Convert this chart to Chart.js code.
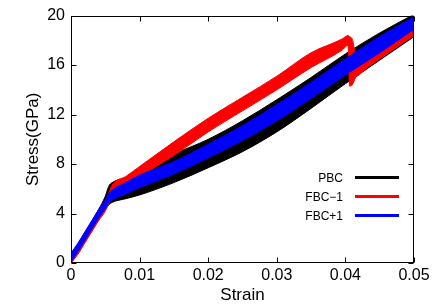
<!DOCTYPE html>
<html><head><meta charset="utf-8">
<script src="https://cdn.jsdelivr.net/npm/chart.js@4/dist/chart.umd.min.js"></script>
<style>html,body{margin:0;padding:0;background:#fff;}#wrap{width:436px;height:306px;position:relative;}</style>
</head><body><div id="wrap"><canvas id="c"></canvas></div>
<script>
// Strain sample points
const strainBand = [0, 0.001, 0.002, 0.003, 0.004, 0.005, 0.0055, 0.006, 0.008, 0.01, 0.015, 0.02, 0.025, 0.03, 0.035, 0.04, 0.045, 0.05];
// PBC (black) noise band: lower / upper envelope, GPa
const pbcLower = [0, 0.8, 1.7, 2.6, 3.5, 4.3, 4.7, 4.9, 5.2, 5.5, 6.5, 7.7, 9.0, 10.6, 12.5, 14.5, 16.4, 18.3];
const pbcUpper = [0.5, 1.5, 2.4, 3.3, 4.3, 5.4, 6.2, 6.5, 6.9, 7.4, 8.8, 10.0, 11.5, 13.2, 15.0, 16.9, 18.6, 20.1];
// FBC+1 (blue) band
const fbcPlusLower = [0.1, 0.9, 1.8, 2.7, 3.6, 4.4, 4.9, 5.1, 5.6, 6.1, 7.2, 8.5, 9.9, 11.5, 13.3, 15.2, 17.0, 18.9];
const fbcPlusUpper = [0.8, 1.6, 2.5, 3.4, 4.3, 5.1, 5.6, 5.9, 6.5, 7.1, 8.2, 9.6, 11.1, 12.8, 14.6, 16.5, 18.3, 19.9];
// FBC-1 (red) band, with the drop near 0.0405
const strainRed = [0, 0.001, 0.002, 0.003, 0.004, 0.005, 0.0055, 0.006, 0.008, 0.01, 0.015, 0.02, 0.025, 0.03, 0.035, 0.0395, 0.0404, 0.0406, 0.041, 0.0415, 0.042, 0.043, 0.045, 0.05];
const fbcMinusLower = [0, 0.7, 1.6, 2.5, 3.4, 4.2, 4.8, 5.6, 6.3, 7.0, 8.7, 10.6, 12.3, 14.0, 15.8, 17.2, 17.6, 14.3, 14.4, 15.0, 15.2, 15.7, 16.5, 18.4];
const fbcMinusUpper = [0.3, 1.1, 2.0, 2.9, 3.8, 4.8, 5.6, 6.3, 7.0, 7.8, 9.8, 11.7, 13.4, 15.1, 17.0, 18.1, 18.4, 18.3, 18.1, 16.8, 16.5, 16.6, 17.4, 19.2];

const xTicks = [0, 0.01, 0.02, 0.03, 0.04, 0.05];
const yTicks = [0, 4, 8, 12, 16, 20];
const seriesNames = ['PBC', 'FBC\u22121', 'FBC+1'];
const seriesColors = ['#000000', '#ff0000', '#0000ff'];

function pts(xs, ys) { return xs.map((x, i) => ({ x: x, y: ys[i] })); }
const datasets = [];
function addBand(name, color, xs, lo, hi, order) {
  const common = { borderColor: color, backgroundColor: color, borderWidth: 1, pointRadius: 0, cubicInterpolationMode: 'monotone', order: order };
  datasets.push(Object.assign({ label: name + ' low', data: pts(xs, lo), fill: false }, common));
  datasets.push(Object.assign({ label: name, data: pts(xs, hi), fill: '-1' }, common));
}
addBand(seriesNames[0], seriesColors[0], strainBand, pbcLower, pbcUpper, 3);
addBand(seriesNames[1], seriesColors[1], strainRed, fbcMinusLower, fbcMinusUpper, 2);
addBand(seriesNames[2], seriesColors[2], strainBand, fbcPlusLower, fbcPlusUpper, 1);

const FONT = '"Liberation Sans", Arial, sans-serif';

const framePlugin = {
  id: 'frame',
  afterDraw(chart) {
    const { ctx, chartArea: a, scales } = chart;
    const L = Math.round(a.left) + 0.5, R = Math.round(a.right) - 0.5, T = Math.round(a.top) + 0.5, B = Math.round(a.bottom) - 0.5;
    ctx.save();
    ctx.strokeStyle = '#000'; ctx.lineWidth = 1;
    ctx.strokeRect(L, T, R - L, B - T);
    const tl = 5;
    ctx.beginPath();
    xTicks.forEach(v => {
      const px = Math.round(scales.x.getPixelForValue(v)) + 0.5;
      ctx.moveTo(px, B); ctx.lineTo(px, B - tl);
      ctx.moveTo(px, T); ctx.lineTo(px, T + tl);
    });
    yTicks.forEach(v => {
      const py = Math.round(scales.y.getPixelForValue(v)) + 0.5;
      ctx.moveTo(L, py); ctx.lineTo(L + tl, py);
      ctx.moveTo(R, py); ctx.lineTo(R - tl, py);
    });
    ctx.stroke();
    // legend: text right-aligned, line sample to the right
    ctx.font = '12px ' + FONT;
    ctx.textAlign = 'right'; ctx.textBaseline = 'middle';
    const lx0 = a.right - 59, lx1 = a.right - 15;
    seriesNames.forEach((n, i) => {
      const y = a.top + 162 + i * 19;
      ctx.fillStyle = '#000';
      ctx.fillText(n, a.right - 71, y + 1);
      ctx.strokeStyle = seriesColors[i]; ctx.lineWidth = 3;
      ctx.beginPath(); ctx.moveTo(lx0, y); ctx.lineTo(lx1, y); ctx.stroke();
    });
    ctx.restore();
  }
};

new Chart(document.getElementById('c'), {
  type: 'line',
  data: { datasets: datasets },
  options: {
    responsive: true, maintainAspectRatio: false, animation: false,
    layout: { padding: { top: 12, right: 22, left: 0, bottom: 0 } },
    plugins: { legend: { display: false }, tooltip: { enabled: false } },
    scales: {
      x: {
        type: 'linear', min: 0, max: 0.05,
        afterBuildTicks: s => { s.ticks = xTicks.map(v => ({ value: v })); },
        afterFit: s => { s.height = 43; },
        grid: { display: false, drawTicks: false }, border: { display: false },
        ticks: { color: '#000', font: { family: FONT, size: 16 }, padding: 3, maxRotation: 0, autoSkip: false,
          callback: v => v === 0 ? '0' : v.toFixed(2) },
        title: { display: true, text: 'Strain', color: '#000', font: { family: FONT, size: 17 }, padding: { top: 0, bottom: 0 } }
      },
      y: {
        type: 'linear', min: 0, max: 20,
        afterBuildTicks: s => { s.ticks = yTicks.map(v => ({ value: v })); },
        afterFit: s => { s.width = 71; },
        grid: { display: false, drawTicks: false }, border: { display: false },
        ticks: { color: '#000', font: { family: FONT, size: 16 }, padding: 6, autoSkip: false,
          callback: v => String(v) },
        title: { display: true, text: 'Stress(GPa)', color: '#000', font: { family: FONT, size: 17 }, padding: { top: 23, bottom: 0 } }
      }
    }
  },
  plugins: [framePlugin]
});
</script></body></html>
